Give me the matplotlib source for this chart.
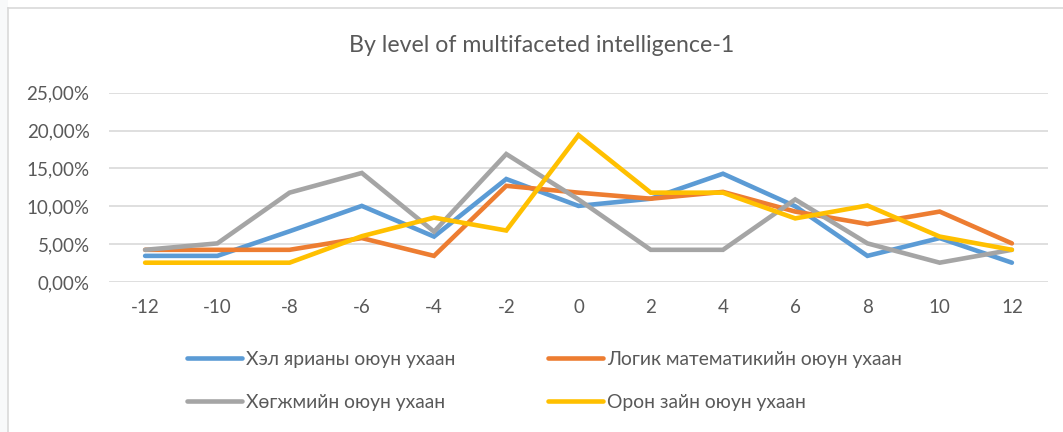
import matplotlib
matplotlib.use("Agg")
import matplotlib.pyplot as plt
from matplotlib.ticker import FuncFormatter
from matplotlib.lines import Line2D
from matplotlib.patches import Rectangle

plt.rcParams['font.family'] = ['Lato', 'DejaVu Sans']

levels = ['-12', '-10', '-8', '-6', '-4', '-2', '0', '2', '4', '6', '8', '10', '12']
series_names = ['Хэл ярианы оюун ухаан', 'Логик математикийн оюун ухаан',
                'Хөгжмийн оюун ухаан', 'Орон зайн оюун ухаан']
# values in %
verbal = [3.45, 3.45, 6.7, 10.05, 6.0, 13.6, 10.05, 11.0, 14.3, 10.0, 3.45, 5.8, 2.55]
logic = [4.25, 4.25, 4.25, 5.8, 3.45, 12.7, 11.8, 11.0, 11.9, 9.3, 7.65, 9.3, 5.1]
music = [4.25, 5.1, 11.8, 14.4, 6.65, 16.9, 10.9, 4.25, 4.25, 10.9, 5.1, 2.55, 4.25]
spatial = [2.55, 2.55, 2.55, 6.05, 8.5, 6.8, 19.4, 11.8, 11.8, 8.4, 10.1, 6.0, 4.25]
colors = ['#5B9BD5', '#ED7D31', '#A5A5A5', '#FFC000']

txt = '#595959'

fig = plt.figure(figsize=(10.63, 4.32), dpi=100)
# light strip and chart border
fig.add_artist(Rectangle((0, 0), 7.5 / 1063, 1, transform=fig.transFigure,
                         facecolor='#F8F9FA', edgecolor='none'))
fig.add_artist(Line2D([8 / 1063, 8 / 1063], [0, 1 - 8 / 432], transform=fig.transFigure,
                      color='#D9D9D9', lw=1.2))
fig.add_artist(Line2D([8 / 1063, 1], [1 - 8 / 432, 1 - 8 / 432], transform=fig.transFigure,
                      color='#D9D9D9', lw=1.2))

ax = fig.add_axes([109 / 1063, 150 / 432, 939 / 1063, 189.3 / 432])
x = list(range(len(levels)))
lines = []
for vals, c, name in zip([verbal, logic, music, spatial], colors, series_names):
    ln, = ax.plot(x, vals, color=c, lw=3.3, label=name, solid_capstyle='round',
                  solid_joinstyle='miter', zorder=3)
    lines.append(ln)

ax.set_xlim(-0.5, len(levels) - 0.5)
ax.set_ylim(0, 25)
ax.set_yticks([0, 5, 10, 15, 20, 25])
ax.yaxis.set_major_formatter(FuncFormatter(lambda v, p: f"{v:.2f}%".replace('.', ',')))
ax.set_xticks(x)
ax.set_xticklabels(levels)
ax.tick_params(axis='both', length=0, labelsize=13.5, colors=txt)
ax.tick_params(axis='y', pad=14)
ax.tick_params(axis='x', pad=12)
ax.grid(axis='y', color='#D9D9D9', lw=1.2)
for s in ax.spines.values():
    s.set_visible(False)

fig.text(542 / 1063, 1 - 45 / 432, 'By level of multifaceted intelligence-1',
         ha='center', va='center', fontsize=16.7, color=txt)

# legend: two columns, row-major order as in the source
for idx, xpos in [((0, 2), 187), ((1, 3), 548)]:
    fig.legend([lines[i] for i in idx], [series_names[i] for i in idx],
               loc='center left', bbox_to_anchor=(xpos / 1063, 1 - 381 / 432),
               frameon=False, fontsize=13.9, labelcolor=txt, handlelength=2.85,
               handletextpad=0.2, labelspacing=1.35, borderpad=0, borderaxespad=0)

fig.savefig('out.png', dpi=100)
